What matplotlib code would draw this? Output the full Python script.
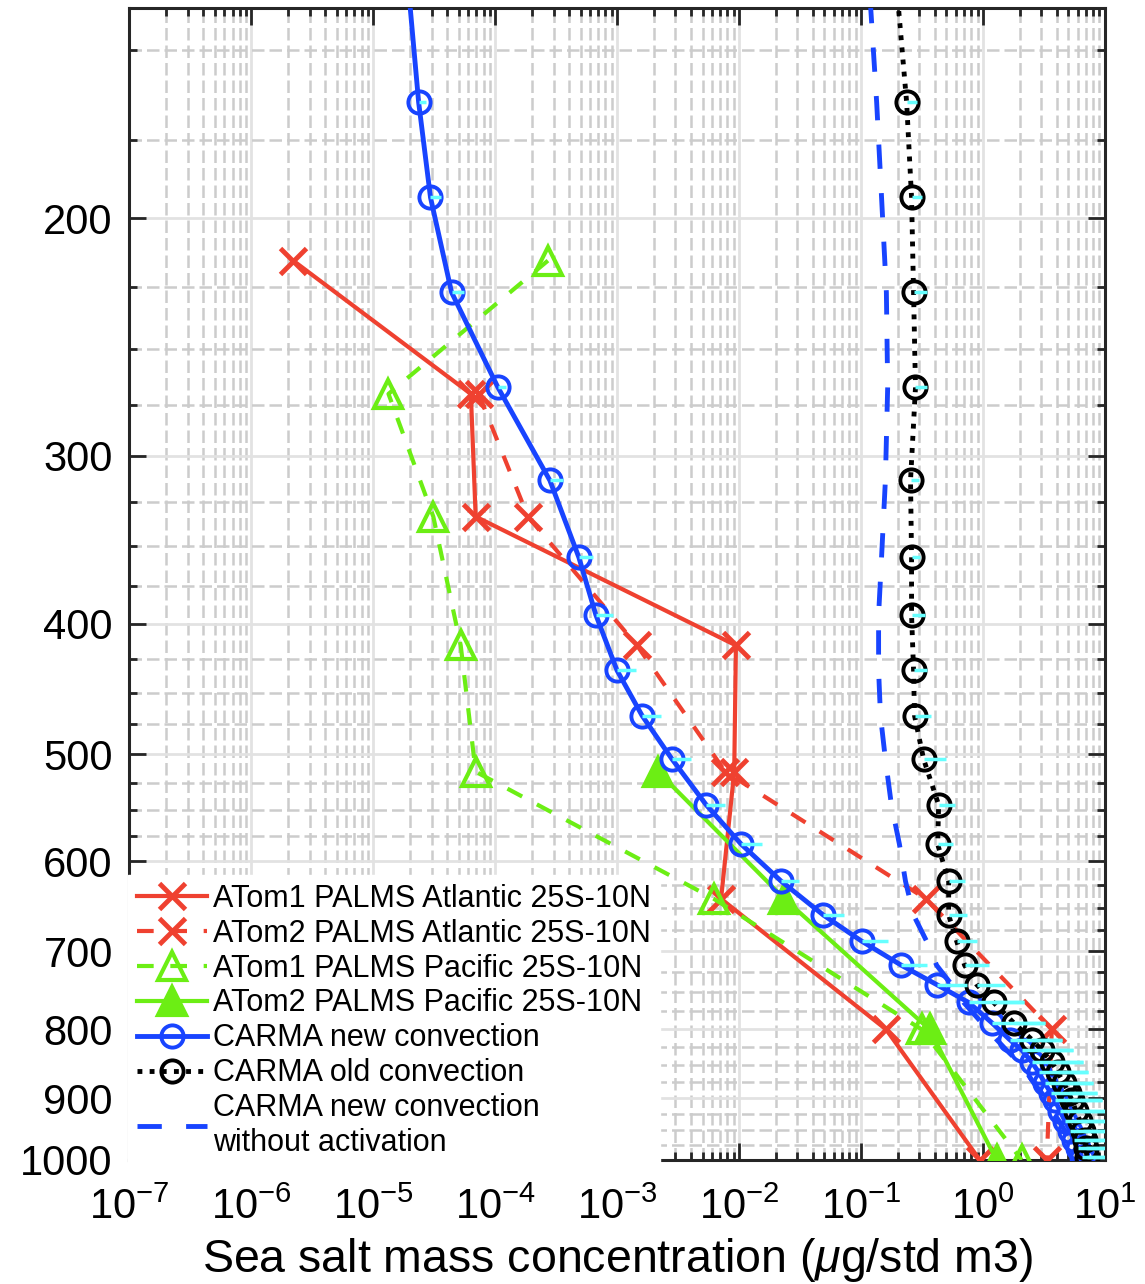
import matplotlib
matplotlib.use("Agg")
import matplotlib.pyplot as plt
from matplotlib.ticker import FixedLocator, NullFormatter, LogLocator

plt.rcParams['font.family'] = ['Liberation Sans', 'DejaVu Sans']
plt.rcParams['mathtext.fontset'] = 'custom'
plt.rcParams['mathtext.rm'] = 'Liberation Sans'
plt.rcParams['mathtext.it'] = 'Liberation Sans:italic'
plt.rcParams['mathtext.bf'] = 'Liberation Sans:bold'

# ATom pressure bins (hPa) and PALMS sea salt (ug/std m3)
atom_p = [215, 270, 333, 415, 515, 640, 800, 1000]
atom1_atl = [2.2e-6, 6.3e-5, 6.9e-5, 9.4e-3, 9.1e-3, 7.1e-3, 0.16, 0.94]
atom2_atl = [float('nan'), 7.3e-5, 1.85e-4, 1.45e-3, 7.7e-3, 0.34, 3.66, 3.33]
atom1_pac = [2.7e-4, 1.33e-5, 3.1e-5, 5.2e-5, 6.9e-5, 6.2e-3, 0.313, 2.07]
atom2_pac = [float('nan'), float('nan'), float('nan'), float('nan'), 2.16e-3, 2.35e-2, 0.364, 1.29]

# CARMA model levels (hPa)
model_p = [135, 164, 193, 227, 267, 313, 357, 394, 433, 468, 504, 545, 583, 621, 658,
           688, 717, 741, 764, 791, 814, 829, 846, 861, 877, 892, 903, 919, 935, 951,
           967, 979, 995]
new_conv = [1.94e-5, 2.35e-5, 2.94e-5, 4.38e-5, 1.05e-4, 2.80e-4, 4.84e-4, 6.68e-4, 9.94e-4,
            1.60e-3, 2.81e-3, 5.36e-3, 1.04e-2, 2.21e-2, 4.90e-2, 0.101, 0.214, 0.416, 0.762,
            1.18, 1.65, 2.08, 2.51, 2.86, 3.21, 3.59, 3.88, 4.26, 4.68, 5.15, 5.55, 5.99, 6.46]
old_conv = [0.196, 0.236, 0.259, 0.269, 0.279, 0.254, 0.259, 0.259, 0.269, 0.274, 0.325,
            0.432, 0.424, 0.522, 0.522, 0.607, 0.706, 0.886, 1.22, 1.78, 2.51, 3.03, 3.66,
            4.10, 4.60, 5.05, 5.35, 5.77, 6.22, 6.58, 6.84, 6.97, 7.10]
no_activation = [0.117, 0.134, 0.147, 0.161, 0.165, 0.158, 0.147, 0.139, 0.139, 0.144, 0.158,
                 0.177, 0.206, 0.231, 0.269, 0.344, 0.416, 0.552, 0.693, 0.974, 1.29, 1.56,
                 1.96, 2.28, 2.61, 3.03, 3.21, 3.66, 4.18, 4.68, 5.05, 5.35, 5.66]
# upper end of spread bars (levels 164 hPa and below)
new_conv_hi = [2.68e-5, 3.56e-5, 5.50e-5, 1.22e-4, 3.58e-4, 6.31e-4, 9.22e-4, 1.42e-3, 2.29e-3,
               4.03e-3, 7.67e-3, 1.55e-2, 3.11e-2, 7.29e-2, 0.165, 0.344, 0.733, 2.16, 3.21,
               4.43, 5.45, 6.58, 7.30, 7.95, 8.58, 9.43, 11.0, 15, 15, 15, 15, 15]
old_conv_hi = [0.285, 0.313, 0.344, 0.344, 0.296, 0.301, 0.331, 0.344, 0.371, 0.493, 0.584,
               0.563, 0.706, 0.733, 0.886, 1.11, 1.50, 2.16, 3.21, 4.43, 5.45, 6.58, 7.30,
               7.95, 8.58, 9.43, 11.0, 15, 15, 15, 15, 15]

xticks = [1e-7, 1e-6, 1e-5, 1e-4, 1e-3, 1e-2, 1e-1, 1e0, 1e1]
yticks = [200, 300, 400, 500, 600, 700, 800, 900, 1000]
yminor = [p for p in range(150, 1000, 25) if p % 100 != 0]

red = '#EF4130'
green = '#6CEE14'
blue = '#1844FF'
cyan = '#66FFFF'

fig = plt.figure(figsize=(11.45, 12.84), dpi=100)
ax = fig.add_axes([0.1131, 0.0966, 0.8520, 0.8972])
ax.set_xscale('log')
ax.set_yscale('log')

ax.plot(atom1_atl, atom_p, color=red, lw=3, marker='x', ms=19, mew=3.5,
        label='ATom1 PALMS Atlantic 25S-10N', zorder=3)
ax.plot(atom2_atl, atom_p, color=red, lw=3, ls=(0, (4, 4)), marker='x', ms=19, mew=3.5,
        label='ATom2 PALMS Atlantic 25S-10N', zorder=3)
ax.plot(atom1_pac, atom_p, color=green, lw=3, ls=(0, (4, 4)), marker='^', ms=20, mew=3,
        mfc='none', label='ATom1 PALMS Pacific 25S-10N', zorder=3)
ax.plot(atom2_pac, atom_p, color=green, lw=3, marker='^', ms=20, mew=3,
        label='ATom2 PALMS Pacific 25S-10N', zorder=3)
ax.plot(new_conv, model_p, color=blue, lw=3.5, marker='o', ms=16, mew=2.8, mfc='none',
        label='CARMA new convection', zorder=4)
ax.plot(old_conv, model_p, color='k', lw=3.5, ls=(0, (1, 1.5)), marker='o', ms=16, mew=2.8,
        mfc='none', label='CARMA old convection', zorder=4)
ax.plot(no_activation, model_p, color=blue, lw=3.5, ls=(0, (5, 5)),
        label='CARMA new convection\nwithout activation', zorder=4)
ax.hlines(model_p[1:], new_conv[1:], new_conv_hi, color=cyan, lw=2.5, zorder=5)
ax.hlines(model_p[1:], old_conv[1:], old_conv_hi, color=cyan, lw=2.5, zorder=5)

ax.set_xlim(1e-7, 10)
ax.set_ylim(1000, 139.6)

ax.xaxis.set_major_locator(FixedLocator(xticks))
ax.xaxis.set_minor_locator(LogLocator(base=10, subs=[2, 3, 4, 5, 6, 7, 8, 9], numticks=20))
ax.xaxis.set_minor_formatter(NullFormatter())
ax.set_xticklabels(['$10^{%d}$' % e for e in range(-7, 2)])
ax.yaxis.set_major_locator(FixedLocator(yticks))
ax.yaxis.set_minor_locator(FixedLocator(yminor))
ax.yaxis.set_minor_formatter(NullFormatter())
ax.set_yticklabels([str(t) for t in yticks])

ax.tick_params(which='both', direction='in', top=True, right=True, color='#262626',
               labelsize=30, width=2)
ax.tick_params(which='major', length=12)
ax.tick_params(which='minor', length=6)
ax.tick_params(axis='y', pad=12)
ax.tick_params(axis='x', pad=20)

ax.grid(which='major', color='#E2E2E2', lw=2, ls='-')
ax.grid(which='minor', color='#CCCCCC', lw=1.8, ls=(0, (5, 2)))
ax.set_axisbelow(True)
for s in ax.spines.values():
    s.set_linewidth(2.2)
    s.set_color('#262626')

ax.set_xlabel('Sea salt mass concentration ($\\mu$g/std m3)', fontsize=33.5, labelpad=6)

leg = ax.legend(loc='lower left', bbox_to_anchor=(-0.002, -0.006), fontsize=22,
                handlelength=2.3, handletextpad=0.2, labelspacing=0.16, borderpad=0.3,
                borderaxespad=0, fancybox=False, framealpha=1, edgecolor='white',
                facecolor='white')
leg.set_zorder(10)

fig.savefig('out.png', dpi=100)
